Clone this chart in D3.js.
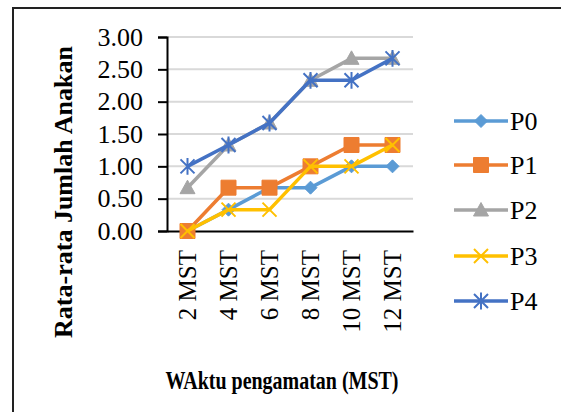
<!DOCTYPE html>
<html><head><meta charset="utf-8">
<script src="https://cdn.jsdelivr.net/npm/d3@7"></script>
<style>body{margin:0;background:#fff}svg{display:block}</style>
</head><body>
<script>
const categories = ["2 MST","4 MST","6 MST","8 MST","10 MST","12 MST"];
const seriesNames = ["P0","P1","P2","P3","P4"];
const P0 = [0, 0.33, 0.67, 0.67, 1.0, 1.0];
const P1 = [0, 0.67, 0.67, 1.0, 1.33, 1.33];
const P2 = [0.67, 1.33, 1.67, 2.33, 2.67, 2.67];
const P3 = [0, 0.33, 0.33, 1.0, 1.0, 1.33];
const P4 = [1.0, 1.33, 1.67, 2.33, 2.33, 2.67];
const yTicks = [0, 0.5, 1, 1.5, 2, 2.5, 3];
const colors = ["#5B9BD5","#ED7D31","#A5A5A5","#FFC000","#4472C4"];
const markers = ["diamond","square","triangle","x","asterisk"];
const seriesValues = [P0,P1,P2,P3,P4];

const W=561,H=412;
const svg=d3.select("body").append("svg").attr("width",W).attr("height",H);
svg.append("rect").attr("x",0).attr("y",0).attr("width",W).attr("height",H).attr("fill","#fff");
svg.append("rect").attr("x",13).attr("y",8).attr("width",W).attr("height",H).attr("fill","none").attr("stroke","#222").attr("stroke-width",2);

const x=d3.scaleBand().domain(categories).range([167,413]);
const y=d3.scaleLinear().domain([0,3]).range([231,37]);
const font="'Liberation Serif','Times New Roman',serif";

// gridlines
svg.append("g").selectAll("line").data(yTicks.filter(d=>d>0)).join("line")
  .attr("x1",167).attr("x2",413).attr("y1",d=>y(d)).attr("y2",d=>y(d))
  .attr("stroke","#d9d9d9").attr("stroke-width",2);

// y axis
const ya=svg.append("g").attr("transform","translate(167,0)")
  .call(d3.axisLeft(y).tickValues(yTicks).tickFormat(d3.format(".2f")).tickSize(9).tickPadding(15));
ya.select(".domain").attr("stroke","#000").attr("stroke-width",2);
ya.selectAll(".tick line").attr("stroke","#000").attr("stroke-width",2);
ya.selectAll("text").attr("font-family",font).attr("font-size",26).attr("fill","#000");

// x axis
const xa=svg.append("g").attr("transform","translate(0,231)")
  .call(d3.axisBottom(x).tickSize(0).tickPadding(0));
xa.select(".domain").attr("stroke","#000").attr("stroke-width",2);
xa.selectAll("text").attr("font-family",font).attr("font-size",25).attr("fill","#000")
  .attr("transform","rotate(-90)").attr("text-anchor","end").attr("x",-19).attr("y",0).attr("dy","0.35em");

function markerPath(type, s){
  const h=s/2;
  switch(type){
    case "diamond": return `M0,${-h}L${h},0L0,${h}L${-h},0Z`;
    case "square": return `M${-h},${-h}H${h}V${h}H${-h}Z`;
    case "triangle": return `M0,${-h}L${h},${h*0.8}L${-h},${h*0.8}Z`;
    case "x": return `M${-h},${-h}L${h},${h}M${-h},${h}L${h},${-h}`;
    case "asterisk": return `M${-h},${-h}L${h},${h}M${-h},${h}L${h},${-h}M0,${-h*1.2}V${h*1.2}`;
  }
}
const msize=[13,15,15,14,14];
const line=d3.line().x((d,i)=>x(categories[i])+x.bandwidth()/2).y(d=>y(d));
seriesValues.forEach((vals,si)=>{
  const g=svg.append("g");
  g.append("path").datum(vals).attr("d",line).attr("fill","none").attr("stroke",colors[si]).attr("stroke-width",3.5).attr("stroke-linejoin","round");
  const filled = markers[si]!=="x" && markers[si]!=="asterisk";
  g.selectAll("path.m").data(vals).join("path").attr("class","m")
    .attr("transform",(d,i)=>`translate(${x(categories[i])+x.bandwidth()/2},${y(d)})`)
    .attr("d",markerPath(markers[si],msize[si]))
    .attr("fill",filled?colors[si]:"none").attr("stroke",colors[si]).attr("stroke-width",filled?1:2);
});

// legend
const lg=svg.append("g");
const ly=[121,165,210,256,301];
seriesNames.forEach((n,i)=>{
  const g=lg.append("g").attr("transform",`translate(0,${ly[i]})`);
  g.append("line").attr("x1",454).attr("x2",508).attr("y1",0).attr("y2",0).attr("stroke",colors[i]).attr("stroke-width",3.5);
  const filled = markers[i]!=="x" && markers[i]!=="asterisk";
  g.append("path").attr("transform","translate(481,0)").attr("d",markerPath(markers[i],msize[i]))
    .attr("fill",filled?colors[i]:"none").attr("stroke",colors[i]).attr("stroke-width",filled?1:2);
  g.append("text").attr("x",510).attr("y",0).attr("dy","0.35em").text(n)
    .attr("font-family",font).attr("font-size",26).attr("fill","#000");
});

// axis titles
svg.append("text").attr("transform","translate(72,192) rotate(-90)").attr("text-anchor","middle")
  .attr("font-family",font).attr("font-weight","bold").attr("font-size",26).attr("fill","#000")
  .text("Rata-rata Jumlah Anakan");
svg.append("text").attr("x",282).attr("y",389).attr("text-anchor","middle")
  .attr("textLength",233).attr("lengthAdjust","spacingAndGlyphs")
  .attr("font-family",font).attr("font-weight","bold").attr("font-size",25).attr("fill","#000")
  .text("WAktu pengamatan (MST)");
</script>
</body></html>
